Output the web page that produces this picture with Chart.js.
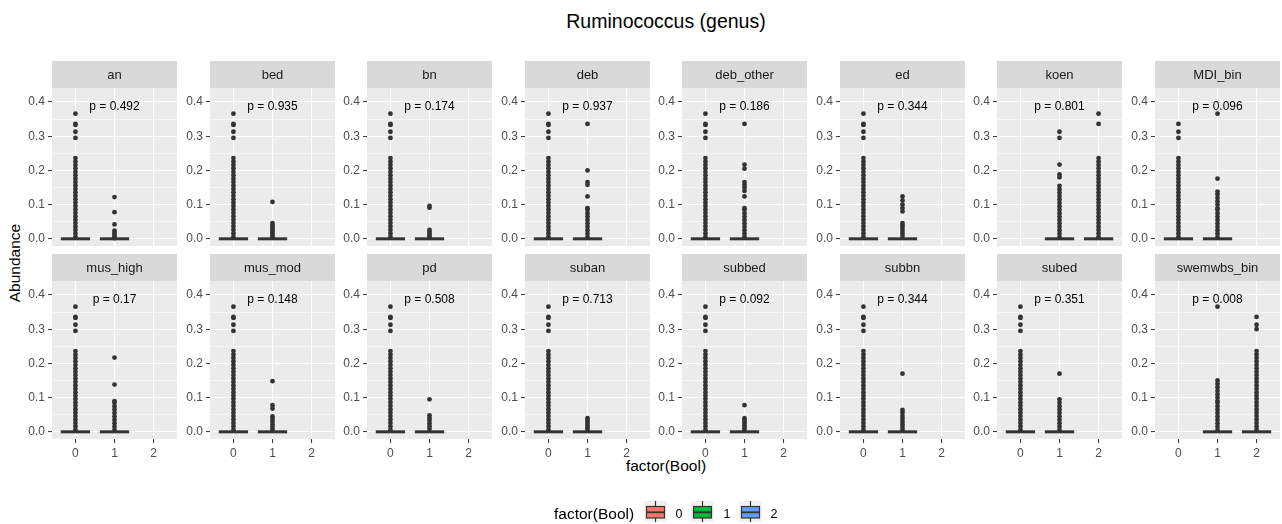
<!DOCTYPE html>
<html>
<head>
<meta charset="utf-8">
<script src="https://cdn.jsdelivr.net/npm/chart.js@4.4.0/dist/chart.umd.min.js"></script>
<style>
  body { margin: 0; background: #fff; width: 1282px; height: 524px; position: relative; overflow: hidden;
         font-family: 'Liberation Sans', Arial, sans-serif; }
  canvas { position: absolute; }
  .txt { position: absolute; color: #000; white-space: nowrap; }
</style>
</head>
<body>
<div id="title" class="txt" style="left:52px;width:1228px;top:9px;line-height:24px;font-size:19.5px;text-align:center;"></div>
<div id="xTitle" class="txt" style="left:52px;width:1228px;top:456px;line-height:20px;font-size:15.5px;text-align:center;"></div>
<div id="yTitle" class="txt" style="left:15px;top:263px;line-height:20px;font-size:15.5px;transform:translate(-50%,-50%) rotate(-90deg);"></div>
<canvas id="legend" width="260" height="30" style="left:540px;top:494px;"></canvas>
<script>
'use strict';

const chartTitle = 'Ruminococcus (genus)';
const xTitle = 'factor(Bool)';
const yTitle = 'Abundance';

const panelNames = ['an', 'bed', 'bn', 'deb', 'deb_other', 'ed', 'koen', 'MDI_bin',
  'mus_high', 'mus_mod', 'pd', 'suban', 'subbed', 'subbn', 'subed', 'swemwbs_bin'];
const pLabels = ['p = 0.492', 'p = 0.935', 'p = 0.174', 'p = 0.937', 'p = 0.186', 'p = 0.344', 'p = 0.801', 'p = 0.096',
  'p = 0.17', 'p = 0.148', 'p = 0.508', 'p = 0.713', 'p = 0.092', 'p = 0.344', 'p = 0.351', 'p = 0.008'];

const groupLabels = ['0', '1', '2'];
const boolColors = ['#F8766D', '#00BA38', '#619CFF'];
const yTickValues = [0, 0.1, 0.2, 0.3, 0.4];
const yTickLabels = ['0.0', '0.1', '0.2', '0.3', '0.4'];
const yMinorValues = [0.05, 0.15, 0.25, 0.35];

// outlier values
const topAll = [0.366, 0.336, 0.333, 0.313, 0.295];
const dense236 = [0.236, 0.226, 0.216, 0.206, 0.196, 0.186, 0.176, 0.166, 0.156, 0.146, 0.136, 0.126,
  0.116, 0.106, 0.096, 0.086, 0.076, 0.066, 0.056, 0.046, 0.036, 0.026, 0.016, 0.006];
const dense085 = [0.085, 0.075, 0.065, 0.055, 0.045, 0.035, 0.025, 0.015, 0.005];
const fullGroup = topAll.concat(dense236);

// median (box) of every group, null = group absent
const medians = [
  [0, 0, null], [0, 0, null], [0, 0, null], [0, 0, null], [0, 0, null], [0, 0, null], [null, 0, 0], [0, 0, null],
  [0, 0, null], [0, 0, null], [0, 0, null], [0, 0, null], [0, 0, null], [0, 0, null], [0, 0, null], [null, 0, 0]
];

const outliers = [
  [fullGroup, [0.122, 0.078, 0.042, 0.024, 0.018, 0.012, 0.006, 0.002], null],
  [fullGroup, [0.108, 0.046, 0.040, 0.034, 0.028, 0.022, 0.016, 0.010, 0.004], null],
  [fullGroup, [0.096, 0.091, 0.026, 0.020, 0.014, 0.008, 0.003], null],
  [fullGroup, [0.336, 0.200, 0.166, 0.158, 0.124, 0.090].concat(dense085), null],
  [fullGroup, [0.336, 0.217, 0.205, 0.166, 0.158, 0.150, 0.140, 0.124, 0.090].concat(dense085), null],
  [fullGroup, [0.124, 0.112, 0.100, 0.090, 0.080, 0.046, 0.040, 0.032, 0.024, 0.016, 0.008], null],
  [null, [0.313, 0.295, 0.217, 0.188, 0.180, 0.155, 0.145, 0.135, 0.125, 0.115, 0.105, 0.095].concat(dense085),
    [0.366, 0.336].concat(dense236)],
  [[0.336, 0.313, 0.295].concat(dense236), [0.366, 0.176, 0.138, 0.130, 0.120, 0.110, 0.100, 0.090].concat(dense085), null],
  [fullGroup, [0.217, 0.138, 0.090].concat(dense085), null],
  [fullGroup, [0.148, 0.078, 0.068, 0.045, 0.038, 0.030, 0.022, 0.014, 0.006], null],
  [fullGroup, [0.095, 0.048, 0.040, 0.032, 0.024, 0.016, 0.008], null],
  [fullGroup, [0.040, 0.033, 0.026, 0.019, 0.012, 0.006], null],
  [fullGroup, [0.078, 0.040, 0.033, 0.026, 0.019, 0.012, 0.006], null],
  [fullGroup, [0.170, 0.064, 0.056, 0.046, 0.038, 0.030, 0.022, 0.014, 0.006], null],
  [fullGroup, [0.170, 0.095].concat(dense085), null],
  [null, [0.366, 0.150, 0.140, 0.130, 0.120, 0.110, 0.100, 0.090].concat(dense085),
    [0.336, 0.313, 0.300].concat(dense236)]
];

const FONT = "'Liberation Sans', Arial, sans-serif";
const colLefts = [52, 210, 367, 525, 682, 840, 997, 1155];
const rowTops = [61, 254];
const STRIP = 27, PLOT_H = 158, PLOT_W = 125, YAXIS_W = 30, XAXIS_H = 20;

document.getElementById('title').textContent = chartTitle;
document.getElementById('xTitle').textContent = xTitle;
document.getElementById('yTitle').textContent = yTitle;

function isMajor(v) {
  return yTickValues.some(t => Math.abs(t - v) < 1e-9);
}

const facetPlugin = {
  id: 'facet',
  beforeDraw(chart, args, opts) {
    const {ctx, chartArea: a} = chart;
    ctx.save();
    ctx.fillStyle = '#EBEBEB';
    ctx.fillRect(a.left, a.top, a.right - a.left, a.bottom - a.top);
    ctx.fillStyle = '#D9D9D9';
    ctx.fillRect(a.left, a.top - STRIP, a.right - a.left, STRIP);
    ctx.fillStyle = '#1A1A1A';
    ctx.font = '13px ' + FONT;
    ctx.textAlign = 'center';
    ctx.textBaseline = 'middle';
    ctx.fillText(opts.name, (a.left + a.right) / 2, a.top - STRIP / 2 + 0.5);
    ctx.restore();
  },
  afterDatasetsDraw(chart, args, opts) {
    const {ctx, scales} = chart;
    ctx.save();
    ctx.fillStyle = '#000';
    ctx.font = '12px ' + FONT;
    ctx.textAlign = 'center';
    ctx.textBaseline = 'middle';
    ctx.fillText(opts.label, scales.x.getPixelForValue(1), scales.y.getPixelForValue(0.386));
    ctx.restore();
  }
};

function drawPanel(idx) {
  const col = idx % 8, row = Math.floor(idx / 8);
  const bottom = row === 1;
  const canvas = document.createElement('canvas');
  const w = YAXIS_W + PLOT_W, h = STRIP + PLOT_H + (bottom ? XAXIS_H : 0);
  canvas.width = w;
  canvas.height = h;
  canvas.style.left = (colLefts[col] - YAXIS_W) + 'px';
  canvas.style.top = rowTops[row] + 'px';
  document.body.appendChild(canvas);

  const datasets = [];
  medians[idx].forEach((m, g) => {
    if (m === null) return;
    datasets.push({
      data: (outliers[idx][g] || []).map(v => ({x: g, y: v})),
      pointRadius: 2.4,
      pointBackgroundColor: '#333333',
      pointBorderWidth: 0
    });
    datasets.push({
      data: [{x: g - 0.375, y: m}, {x: g + 0.375, y: m}],
      showLine: true,
      borderColor: '#333333',
      borderWidth: 3,
      borderCapStyle: 'butt',
      pointRadius: 0
    });
  });

  return new Chart(canvas, {
    type: 'scatter',
    data: {datasets: datasets},
    options: {
      responsive: false,
      animation: false,
      devicePixelRatio: 1,
      layout: {autoPadding: false, padding: {top: STRIP, left: 0, right: 0, bottom: 0}},
      plugins: {
        legend: {display: false},
        tooltip: {enabled: false},
        facet: {name: panelNames[idx], label: pLabels[idx]}
      },
      scales: {
        x: {
          type: 'linear',
          min: -0.6,
          max: 2.6,
          afterBuildTicks: s => { s.ticks = groupLabels.map((_, i) => ({value: i})); },
          afterFit: s => { s.height = bottom ? XAXIS_H : 0; s.paddingLeft = 0; s.paddingRight = 0; },
          ticks: {
            display: bottom,
            autoSkip: false,
            maxRotation: 0,
            padding: 3,
            color: '#4D4D4D',
            font: {family: FONT, size: 12},
            callback: v => groupLabels[v]
          },
          grid: {color: '#FFFFFF', lineWidth: 1.1, drawTicks: bottom, tickLength: 4, tickColor: '#333333', tickWidth: 1},
          border: {display: false}
        },
        y: {
          type: 'linear',
          min: -0.021,
          max: 0.441,
          afterBuildTicks: s => { s.ticks = yTickValues.concat(yMinorValues).sort((a, b) => a - b).map(v => ({value: v})); },
          afterFit: s => { s.width = YAXIS_W; s.paddingTop = 0; s.paddingBottom = 0; },
          ticks: {
            autoSkip: false,
            padding: 3,
            color: '#4D4D4D',
            font: {family: FONT, size: 12},
            callback: v => {
              const i = yTickValues.findIndex(t => Math.abs(t - v) < 1e-9);
              return i >= 0 ? yTickLabels[i] : '';
            }
          },
          grid: {
            color: '#FFFFFF',
            lineWidth: c => (c.tick && isMajor(c.tick.value)) ? 1.1 : 0.55,
            tickLength: 4,
            tickWidth: 1,
            tickColor: c => (c.tick && isMajor(c.tick.value)) ? '#333333' : 'rgba(0,0,0,0)'
          },
          border: {display: false}
        }
      }
    },
    plugins: [facetPlugin]
  });
}

panelNames.forEach((_, i) => drawPanel(i));

// legend
function drawLegend() {
  const c = document.getElementById('legend');
  const ctx = c.getContext('2d');
  const ox = 540, oy = 494;
  ctx.fillStyle = '#000';
  ctx.font = '15.5px ' + FONT;
  ctx.textBaseline = 'middle';
  ctx.fillText(xTitle, 554 - ox, 515 - oy);
  const keyX = [644, 691, 739];
  const labX = [679, 727, 774];
  groupLabels.forEach((lab, i) => {
    const x = keyX[i] - ox, y = 501 - oy;
    ctx.fillStyle = '#F2F2F2';
    ctx.fillRect(x, y, 23, 21);
    ctx.strokeStyle = '#333333';
    ctx.lineWidth = 1.2;
    ctx.beginPath();
    ctx.moveTo(x + 11.5, y); ctx.lineTo(x + 11.5, y + 5.5);
    ctx.moveTo(x + 11.5, y + 17); ctx.lineTo(x + 11.5, y + 21);
    ctx.stroke();
    ctx.fillStyle = boolColors[i];
    ctx.fillRect(x + 2.5, y + 5.5, 18, 11.5);
    ctx.strokeRect(x + 2.5, y + 5.5, 18, 11.5);
    ctx.lineWidth = 1.8;
    ctx.beginPath();
    ctx.moveTo(x + 2.5, y + 11.3); ctx.lineTo(x + 20.5, y + 11.3);
    ctx.stroke();
    ctx.fillStyle = '#000';
    ctx.font = '12.5px ' + FONT;
    ctx.textAlign = 'center';
    ctx.fillText(lab, labX[i] - ox, 515 - oy);
    ctx.textAlign = 'left';
  });
}
drawLegend();
</script>
</body>
</html>
